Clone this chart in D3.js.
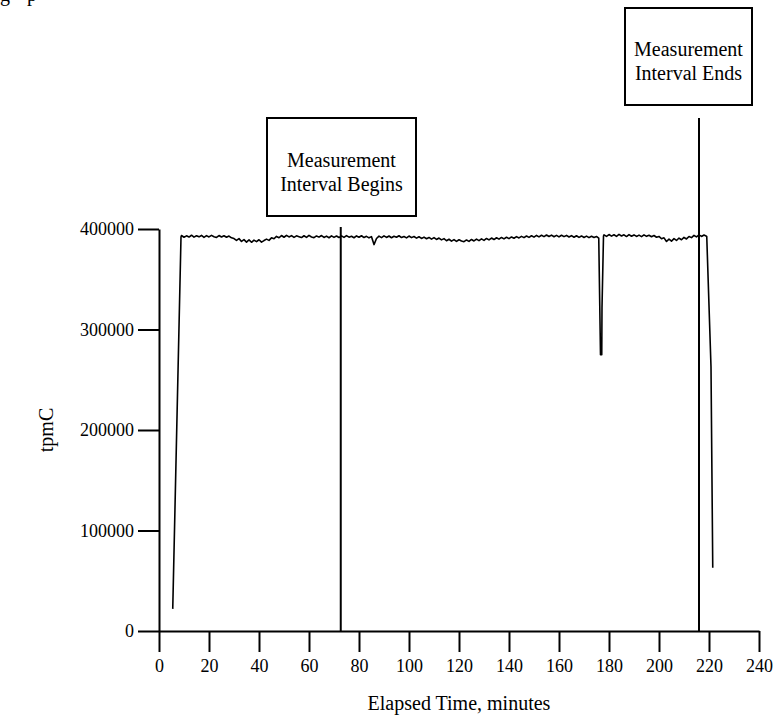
<!DOCTYPE html>
<html>
<head>
<meta charset="utf-8">
<script src="https://cdn.jsdelivr.net/npm/d3@7"></script>
<style>
  html, body { margin: 0; padding: 0; background: #fff; }
  svg { display: block; }
  text { font-family: "Liberation Serif", "Times New Roman", serif; fill: #000; }
</style>
</head>
<body>
<svg id="chart" width="776" height="719"></svg>
<script>
// ---- data ----
const xTicks = [0, 20, 40, 60, 80, 100, 120, 140, 160, 180, 200, 220, 240];
const yTicks = [0, 100000, 200000, 300000, 400000];

// ramp-up
const rampTimes = [5.5, 8.8];
const rampValues = [22000, 392000];

// steady state, one sample per minute starting at minute 9
const steadyStart = 9;
const steadyValues = [
  393500, 391800, 393200, 392000, 393800, 391900, 393300, 392200, 393600, 391700,
  393400, 392100, 393700, 392300, 391600, 393500, 392000, 393300, 391800, 393000,
  391200, // 29
  390500, 388600, 390400, 387600, 389400, 387000, 389200, 386800, 388900, 387400,
  389300, 386900, 388500, 389900, 388700, 391200, 390300, // 46
  392600, 391300, 393500, 391800, 393700, 392100, 393400, 391600, 393200, 392400,
  391500, 393300, 391700, 393600, 392000, 391400, 393100, 391900, 393500, 391600,
  392900, 391300, 393200, 391700, 393000, 391500, // 72
  393200, 391600, 393400, 391900, 392800, 391300, 393100, 391800, 393300, 391500,
  392700, 391200, 392400, // 85
  384500, 390500, // 86-87
  392900, 391400, 393200, 391600, 393000, 391300, 392800, 391800, 393300, 391500,
  392600, 391200, 393000, 391400, 392500, 390900, 392300, 390600, 391900, 390300,
  391600, 389900, 391400, 389600, 391000, // 112
  389200, 390400, 388300, 389800, 387900, 389500, 387600, 389300, 388000, 387400,
  389100, 387700, 389600, 388100, 389900, 388400, 390200, 388700, // 130
  390600, 389200, 391000, 389500, 391300, 389900, 391600, 390200, 391800, 390400,
  392100, 390800, 392400, 391100, 392700, 391400, 393000, 391700, 393300, 391900, // 150
  393600, 392200, 393800, 392400, 394000, 392500, 393900, 392300, 393700, 392100,
  393800, 392400, 393600, 392000, 393400, 391800, 393300, 391700, 393100, 391600,
  392900, 391400, 392800, 391500, 392500 // 175
];

// throughput dip near minute 177
const dipTimes = [175.9, 176.6, 177.1, 177.2, 177.8];
const dipValues = [391000, 275000, 275000, 322000, 393000];

// steady again, one sample per minute starting at minute 178
const lateStart = 178;
const lateValues = [
  394200, 392600, 394500, 392900, 394300, 392700, 394600, 393000, 394200, 392500,
  394400, 392800, 394100, 392600, 393900, 392400, 394200, 392700, 393800, 392300,
  393500, 391800, // 199
  392600, 390300, 391200, 387600, 390000, 388000, 390400, 388600, 391000, 389300,
  391600, 390100, 392500, 391400, 393600, 392200, 394100, 392600, 394000, 392800 // 219
];

// ramp-down
const endTimes = [219.1, 220.8, 221.5];
const endValues = [392500, 263000, 63000];

// measurement interval markers (minutes)
const intervalBegin = 72.7;
const intervalEnd = 216.0;

// ---- build series ----
const series = [];
rampTimes.forEach((t, i) => series.push([t, rampValues[i]]));
steadyValues.forEach((v, i) => series.push([steadyStart + i, v]));
dipTimes.forEach((t, i) => series.push([t, dipValues[i]]));
lateValues.forEach((v, i) => series.push([lateStart + i, v]));
endTimes.forEach((t, i) => series.push([t, endValues[i]]));

// ---- layout ----
const svg = d3.select("#chart");
const x = d3.scaleLinear().domain([0, 240]).range([159, 759]);
const y = d3.scaleLinear().domain([0, 400000]).range([631, 229]);

// axes
const yAxis = d3.axisLeft(y).tickValues(yTicks).tickSize(21).tickSizeOuter(0)
  .tickPadding(4).tickFormat(d3.format("d"));
const xAxis = d3.axisBottom(x).tickValues(xTicks).tickSize(21).tickSizeOuter(0)
  .tickPadding(7).tickFormat(d3.format("d"));

const gy = svg.append("g").attr("transform", `translate(${x(0)},0)`).call(yAxis);
const gx = svg.append("g").attr("transform", `translate(0,${y(0)})`).call(xAxis);
[gy, gx].forEach(g => {
  g.selectAll("path, line").attr("stroke", "#000").attr("stroke-width", 2);
  g.selectAll("text").attr("font-size", 18)
    .attr("font-family", "'Liberation Serif', 'Times New Roman', serif").attr("fill", "#000");
});

// data line
const line = d3.line().x(d => x(d[0])).y(d => y(d[1]));
svg.append("path").datum(series)
  .attr("d", line).attr("fill", "none").attr("stroke", "#000")
  .attr("stroke-width", 1.6).attr("stroke-linejoin", "round");

// interval markers
svg.append("line")
  .attr("x1", x(intervalBegin)).attr("x2", x(intervalBegin))
  .attr("y1", 227).attr("y2", y(0))
  .attr("stroke", "#000").attr("stroke-width", 2);
svg.append("line")
  .attr("x1", x(intervalEnd)).attr("x2", x(intervalEnd))
  .attr("y1", 118).attr("y2", y(0))
  .attr("stroke", "#000").attr("stroke-width", 2);

function box(x0, y0, w, h, lines, ty) {
  svg.append("rect").attr("x", x0).attr("y", y0).attr("width", w).attr("height", h)
    .attr("fill", "#fff").attr("stroke", "#000").attr("stroke-width", 2);
  const t = svg.append("text").attr("text-anchor", "middle").attr("font-size", 20);
  lines.forEach((s, i) => {
    t.append("tspan").attr("x", x0 + w / 2).attr("y", ty + i * 24).text(s);
  });
}
box(267, 118, 149, 98, ["Measurement", "Interval Begins"], 167);
box(625, 8, 127, 97, ["Measurement", "Interval Ends"], 56);

// axis titles
svg.append("text").attr("x", 459).attr("y", 710).attr("text-anchor", "middle")
  .attr("font-size", 20).text("Elapsed Time, minutes");
svg.append("text").attr("transform", "translate(53,430) rotate(-90)")
  .attr("text-anchor", "middle").attr("font-size", 20).text("tpmC");

// clipped fragment of text above the page top
svg.append("text").attr("x", 0).attr("y", 1).attr("font-size", 20)
  .text("g");
svg.append("text").attr("x", 27).attr("y", 1).attr("font-size", 20)
  .text("p");
</script>
</body>
</html>
